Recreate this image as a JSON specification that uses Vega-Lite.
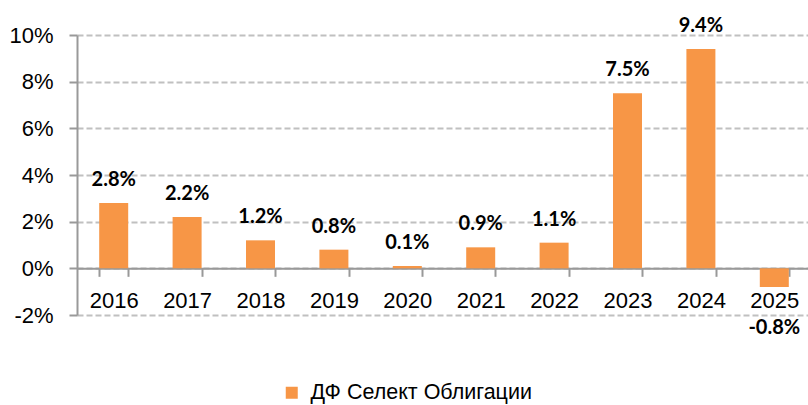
{
  "$schema": "https://vega.github.io/schema/vega-lite/v6.json",
  "width": 734,
  "height": 280,
  "autosize": {"type": "none"},
  "padding": {"left": 77, "top": 35, "right": 0, "bottom": 90},
  "background": "white",
  "config": {
    "view": {"stroke": null},
    "font": "Liberation Sans",
    "locale": {"number": {"decimal": ".", "thousands": ",", "grouping": [3], "currency": ["$", ""], "minus": "-"}}
  },
  "data": {
    "values": [
      {"year": "2016", "value": 0.028, "series": "ДФ Селект Облигации"},
      {"year": "2017", "value": 0.022, "series": "ДФ Селект Облигации"},
      {"year": "2018", "value": 0.012, "series": "ДФ Селект Облигации"},
      {"year": "2019", "value": 0.008, "series": "ДФ Селект Облигации"},
      {"year": "2020", "value": 0.001, "series": "ДФ Селект Облигации"},
      {"year": "2021", "value": 0.009, "series": "ДФ Селект Облигации"},
      {"year": "2022", "value": 0.011, "series": "ДФ Селект Облигации"},
      {"year": "2023", "value": 0.075, "series": "ДФ Селект Облигации"},
      {"year": "2024", "value": 0.094, "series": "ДФ Селект Облигации"},
      {"year": "2025", "value": -0.008, "series": "ДФ Селект Облигации"}
    ]
  },
  "encoding": {
    "x": {
      "field": "year",
      "type": "ordinal",
      "sort": null,
      "scale": {"paddingInner": 0.6, "paddingOuter": 0.3},
      "axis": {
        "title": null,
        "offset": -46.67,
        "domainColor": "#999999",
        "domainWidth": 2,
        "tickColor": "#999999",
        "tickWidth": 2,
        "tickSize": 8,
        "tickBand": "extent",
        "labelAngle": 0,
        "labelFontSize": 22,
        "labelColor": "#000000",
        "labelPadding": 14,
        "grid": false
      }
    },
    "y": {
      "field": "value",
      "type": "quantitative",
      "scale": {"domain": [-0.02, 0.1], "nice": false, "zero": false},
      "axis": {
        "title": null,
        "format": ".0%",
        "values": [-0.02, 0, 0.02, 0.04, 0.06, 0.08, 0.1],
        "domainColor": "#999999",
        "domainWidth": 2,
        "tickColor": "#999999",
        "tickWidth": 2,
        "tickSize": 8,
        "labelFontSize": 22,
        "labelColor": "#000000",
        "labelPadding": 16,
        "gridColor": "#C0C0C0",
        "gridDash": [6, 3],
        "gridWidth": 2
      }
    }
  },
  "layer": [
    {
      "mark": {"type": "bar", "size": 29},
      "encoding": {
        "color": {
          "field": "series",
          "type": "nominal",
          "scale": {"range": ["#F79646"]},
          "legend": {
            "title": null,
            "orient": "none",
            "legendX": 204,
            "legendY": 347,
            "symbolType": "square",
            "symbolSize": 144,
            "symbolStrokeWidth": 0,
            "labelFontSize": 21.5,
            "labelLimit": 400,
            "labelOffset": 8,
            "labelColor": "#000000"
          }
        }
      }
    },
    {
      "transform": [{"filter": "datum.value >= 0"}],
      "mark": {"type": "text", "baseline": "bottom", "dy": -13, "font": "Lato", "fontWeight": "bold", "fontSize": 20, "color": "#000000"},
      "encoding": {"text": {"field": "value", "type": "quantitative", "format": ".1%"}}
    },
    {
      "transform": [{"filter": "datum.value < 0"}],
      "mark": {"type": "text", "baseline": "top", "dy": 31, "font": "Lato", "fontWeight": "bold", "fontSize": 20, "color": "#000000"},
      "encoding": {"text": {"field": "value", "type": "quantitative", "format": ".1%"}}
    }
  ]
}
